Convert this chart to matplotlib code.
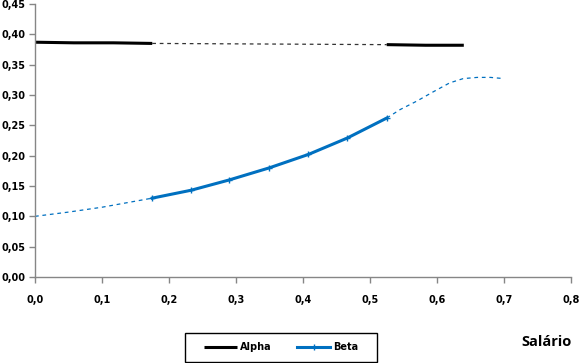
import matplotlib
matplotlib.use("Agg")
import matplotlib.pyplot as plt
from matplotlib.ticker import FuncFormatter, MultipleLocator
from matplotlib.patches import Rectangle

# Data
alpha_left_x = [0.0, 0.058, 0.117, 0.175]
alpha_left_y = [0.387, 0.386, 0.386, 0.385]
alpha_dash_x = [0.175, 0.525]
alpha_dash_y = [0.385, 0.383]
alpha_right_x = [0.525, 0.583, 0.640]
alpha_right_y = [0.383, 0.382, 0.382]

beta_dash_left_x = [0.0, 0.05, 0.1, 0.15, 0.175]
beta_dash_left_y = [0.100, 0.107, 0.115, 0.125, 0.130]
beta_x = [0.175, 0.233, 0.29, 0.35, 0.408, 0.466, 0.525]
beta_y = [0.130, 0.143, 0.160, 0.180, 0.202, 0.229, 0.262]
beta_dash_right_x = [0.525, 0.545, 0.570, 0.594, 0.619, 0.639, 0.660, 0.680, 0.700]
beta_dash_right_y = [0.262, 0.276, 0.290, 0.305, 0.320, 0.327, 0.329, 0.329, 0.327]

xlabel = "Salário"

fig = plt.figure(figsize=(5.8, 3.63), dpi=100)
ax = fig.add_axes([0.0603, 0.2369, 0.9242, 0.7521])

black = "#000000"
blue = "#0070C0"

ax.plot(alpha_dash_x, alpha_dash_y, color="#333333", lw=0.9, ls=(0, (3, 3)))
ax.plot(beta_dash_left_x, beta_dash_left_y, color=blue, lw=0.9, ls=(0, (3, 3)))
ax.plot(beta_dash_right_x, beta_dash_right_y, color=blue, lw=0.9, ls=(0, (3, 3)))

ax.plot(alpha_left_x, alpha_left_y, color=black, lw=2.2, solid_capstyle="butt", label="Alpha")
ax.plot(alpha_right_x, alpha_right_y, color=black, lw=2.2, solid_capstyle="butt")
ax.plot(beta_x, beta_y, color=blue, lw=2.2, marker="+", ms=4, mew=1, label="Beta")

ax.set_xlim(0, 0.8)
ax.set_ylim(0, 0.45)
ax.xaxis.set_major_locator(MultipleLocator(0.1))
ax.yaxis.set_major_locator(MultipleLocator(0.05))
ax.xaxis.set_major_formatter(FuncFormatter(lambda v, p: f"{v:.1f}".replace(".", ",")))
ax.yaxis.set_major_formatter(FuncFormatter(lambda v, p: f"{v:.2f}".replace(".", ",")))

for s in ["top", "right"]:
    ax.spines[s].set_visible(False)
for s in ["left", "bottom"]:
    ax.spines[s].set_color("#868686")
    ax.spines[s].set_linewidth(1)
ax.tick_params(axis="both", color="#868686", length=4, width=1, direction="out",
               labelsize=7, labelcolor="#000000", pad=2.5)
ax.tick_params(axis="x", pad=9)
for lab in ax.get_xticklabels() + ax.get_yticklabels():
    lab.set_fontweight("bold")
    lab.set_family("DejaVu Sans")

# legend frame drawn manually, entries centered inside
fig.patches.append(Rectangle((185 / 580, 1 - 362 / 363), 192 / 580, 29 / 363,
                             transform=fig.transFigure, fill=False,
                             edgecolor="black", linewidth=1))
leg = fig.legend(loc="center", bbox_to_anchor=(281 / 580, 1 - 347.5 / 363),
                 ncol=2, frameon=False, handlelength=3.4, handletextpad=0.3,
                 columnspacing=2.7, borderaxespad=0, borderpad=0,
                 prop={"weight": "bold", "size": 7})

fig.text(0.985, 0.057, xlabel, ha="right", va="center", fontsize=10.5,
         fontweight="bold", family="Open Sans")

fig.savefig("out.png", dpi=100)
